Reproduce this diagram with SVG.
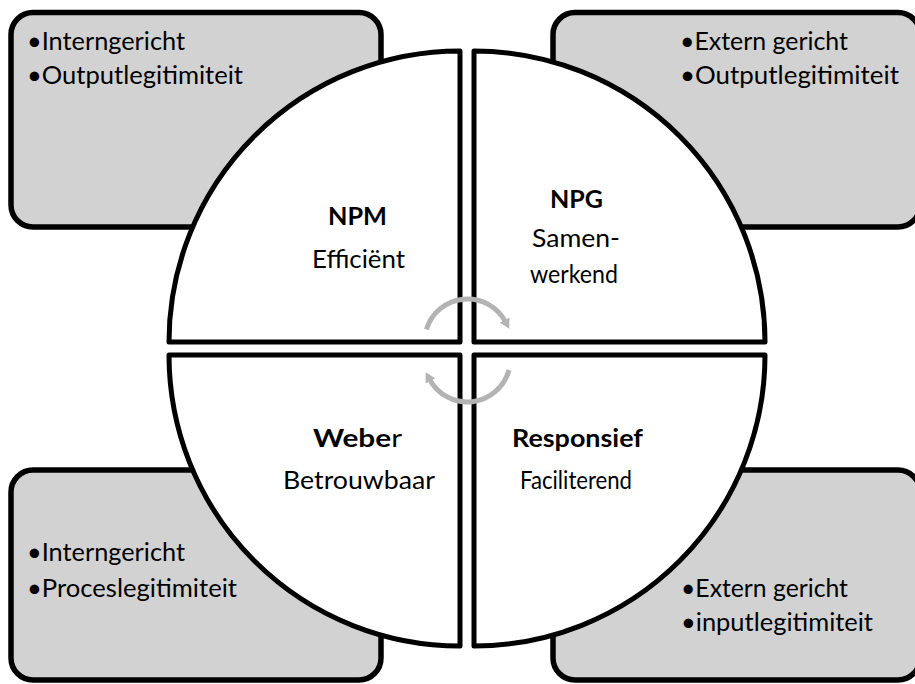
<svg xmlns="http://www.w3.org/2000/svg" width="915" height="684" viewBox="0 0 915 684">
<style>
.box{fill:#d2d2d2;stroke:#000;stroke-width:5.5}
.q{fill:#fff;stroke:#000;stroke-width:5;stroke-linejoin:round}
.t{font-family:Lato,"Open Sans","Liberation Sans",sans-serif;font-size:25px;fill:#000}
.c{text-anchor:middle}
.b{font-weight:bold}
.arc{fill:none;stroke:#b3b3b3;stroke-width:5;marker-end:url(#ah)}
</style>
<defs>
<marker id="ah" markerUnits="userSpaceOnUse" markerWidth="12" markerHeight="12" refX="2" refY="6" orient="auto">
<path d="M0,0.5 L10,6 L0,11.5 Z" fill="#b3b3b3"/>
</marker>
</defs>
<rect width="915" height="684" fill="#fff"/>
<g id="box-tl"><rect class="box" x="11" y="12.5" width="370" height="214.5" rx="22"/></g>
<g id="box-tr"><rect class="box" x="553" y="12.5" width="367" height="214.5" rx="22"/></g>
<g id="box-bl"><rect class="box" x="11" y="470" width="370" height="210" rx="22"/></g>
<g id="box-br"><rect class="box" x="553" y="470" width="367" height="210" rx="22"/></g>
<g id="q-npm"><path class="q" d="M460,342 L169,342 A291,291 0 0 1 460,51 Z"/></g>
<g id="q-npg"><path class="q" d="M474,342 L474,51 A291,291 0 0 1 765,342 Z"/></g>
<g id="q-weber"><path class="q" d="M460,355 L460,646 A291,291 0 0 1 169,355 Z"/></g>
<g id="q-resp"><path class="q" d="M474,355 L765,355 A291,291 0 0 1 474,646 Z"/></g>
<g id="connectors">
<path class="arc" d="M426.4,329.4 A43,43 0 0 1 505.5,321.8"/>
<path class="arc" d="M509,370 A43,43 0 0 1 429.5,379.2"/>
</g>
<g id="text-tl">
<text class="t" x="27" y="50" textLength="158" lengthAdjust="spacingAndGlyphs">•Interngericht</text>
<text class="t" x="27" y="84" textLength="216" lengthAdjust="spacingAndGlyphs">•Outputlegitimiteit</text>
</g>
<g id="text-tr">
<text class="t" x="680" y="50" textLength="168" lengthAdjust="spacingAndGlyphs">•Extern gericht</text>
<text class="t" x="680" y="84" textLength="219" lengthAdjust="spacingAndGlyphs">•Outputlegitimiteit</text>
</g>
<g id="text-bl">
<text class="t" x="27" y="561" textLength="158" lengthAdjust="spacingAndGlyphs">•Interngericht</text>
<text class="t" x="27" y="597" textLength="210" lengthAdjust="spacingAndGlyphs">•Proceslegitimiteit</text>
</g>
<g id="text-br">
<text class="t" x="681" y="597" textLength="167" lengthAdjust="spacingAndGlyphs">•Extern gericht</text>
<text class="t" x="681" y="631" textLength="192" lengthAdjust="spacingAndGlyphs">•inputlegitimiteit</text>
</g>
<g id="labels">
<text class="t c b" x="357.5" y="225" textLength="59" lengthAdjust="spacingAndGlyphs">NPM</text>
<text class="t c" x="358.5" y="268" textLength="93" lengthAdjust="spacingAndGlyphs">Efficiënt</text>
<text class="t c b" x="576.5" y="208" textLength="53" lengthAdjust="spacingAndGlyphs">NPG</text>
<text class="t c" x="576" y="247" textLength="88" lengthAdjust="spacingAndGlyphs">Samen-</text>
<text class="t c" x="574" y="283" textLength="88" lengthAdjust="spacingAndGlyphs">werkend</text>
<text class="t c" x="357.5" y="447" textLength="89" lengthAdjust="spacingAndGlyphs"><tspan class="b">Webe</tspan>r</text>
<text class="t c" x="359" y="489" textLength="152" lengthAdjust="spacingAndGlyphs">Betrouwbaar</text>
<text class="t c b" x="577.5" y="447" textLength="131" lengthAdjust="spacingAndGlyphs">Responsief</text>
<text class="t c" x="576" y="489" textLength="112" lengthAdjust="spacingAndGlyphs">Faciliterend</text>
</g>
</svg>
